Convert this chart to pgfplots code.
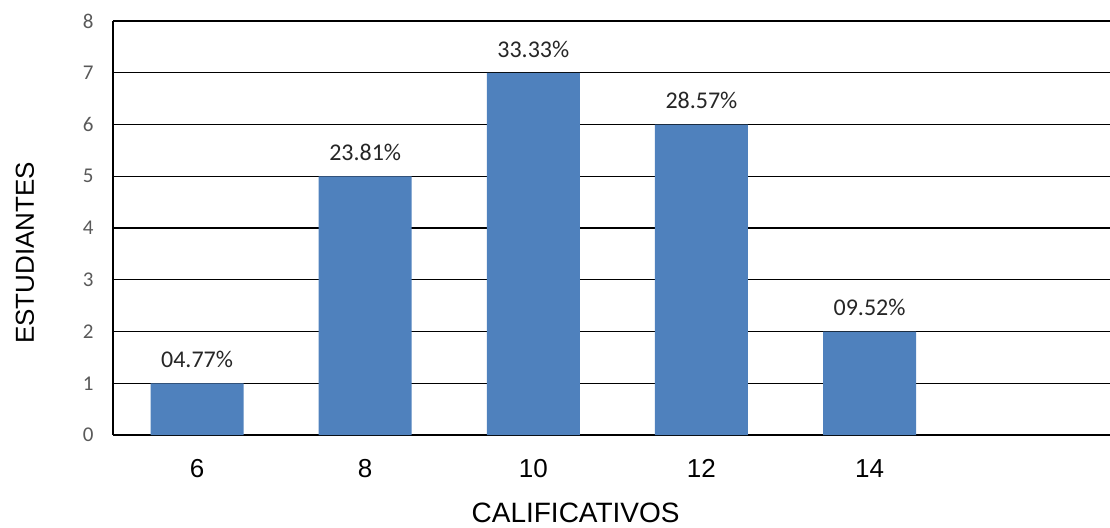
\documentclass[border=0pt]{standalone}
\usepackage{pgfplots}
\pgfplotsset{compat=1.18}
\usepackage{fontspec}
\setmainfont{Liberation Sans}
\newfontfamily\calibri{Carlito}
\definecolor{barblue}{HTML}{4F81BD}
\definecolor{ticgray}{HTML}{595959}
\begin{document}
\begin{tikzpicture}
\begin{axis}[
  at={(0pt,0pt)}, anchor=south west,
  scale only axis, width=997pt, height=414pt,
  ymin=0, ymax=8, xmin=-0.5, xmax=5.43,
  ybar, bar width=93pt, bar shift=0pt,
  xtick={0,1,2,3,4}, xticklabels={6,8,10,12,14},
  ytick={0,1,2,3,4,5,6,7,8},
  /pgf/number format/assume math mode=true,
  ymajorgrids, grid style={black, line width=1.3pt},
  axis x line*=bottom, axis y line*=left,
  x axis line style={-, black, line width=2.6pt},
  y axis line style={-, black, line width=1.6pt},
  major tick length=0pt,
  yticklabel style={font=\calibri\fontsize{21}{25}\selectfont, color=ticgray, anchor=east, xshift=-16pt},
  xticklabel style={font=\fontsize{26}{30}\selectfont, color=black, anchor=north, yshift=-21pt},
  xlabel={CALIFICATIVOS},
  ylabel={ESTUDIANTES},
  xlabel style={font=\fontsize{28}{32}\selectfont, at={(axis description cs:0.464,-0.188)}, anchor=center},
  ylabel style={font=\fontsize{26}{30}\selectfont, at={(axis description cs:-0.0884,0.44)}, anchor=center},
  nodes near coords={\pgfplotspointmeta},
  point meta=explicit symbolic,
  nodes near coords style={font=\calibri\fontsize{24}{28}\selectfont, color=black!85, anchor=south, yshift=12pt},
]
\addplot[draw=none, fill=barblue] coordinates {
  (0,1) [04.77\%]
  (1,5) [23.81\%]
  (2,7) [33.33\%]
  (3,6) [28.57\%]
  (4,2) [09.52\%]
};
\end{axis}
\pgfresetboundingbox
\useasboundingbox (-113pt,-92pt) rectangle (997pt,435pt);
\end{tikzpicture}
\end{document}
